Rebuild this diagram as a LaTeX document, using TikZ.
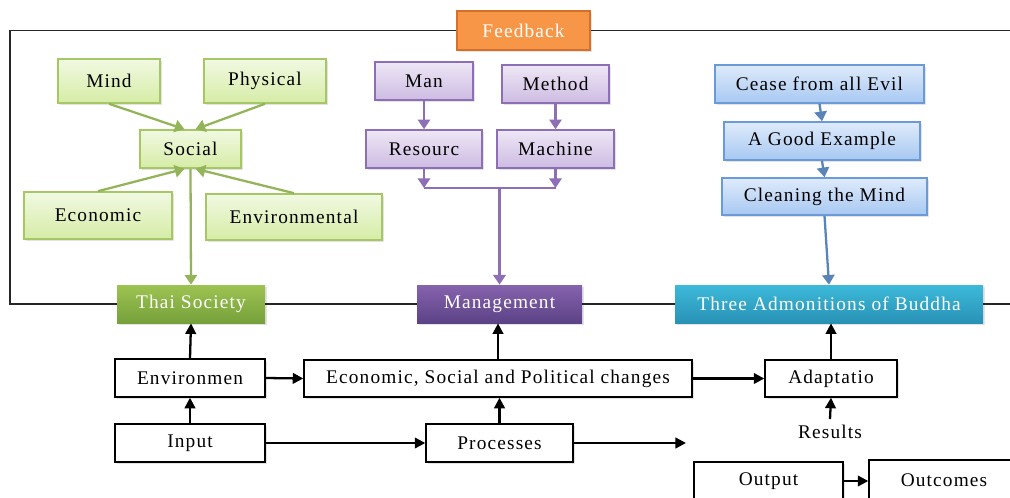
\documentclass[tikz,border=0pt]{standalone}
\usepackage{fontspec}
\setmainfont{Liberation Serif}[LetterSpace=6]
\usetikzlibrary{arrows.meta,shadows}
\newcommand{\pu}{*0.02cm}

\definecolor{gbord}{HTML}{A5C864}
\definecolor{gtop}{HTML}{F1F9E2}
\definecolor{gbot}{HTML}{D6ECA6}
\definecolor{pbord}{HTML}{8C6FB4}
\definecolor{ptop}{HTML}{EEE7F6}
\definecolor{pbot}{HTML}{CDBBE2}
\definecolor{bbord}{HTML}{6A9BD8}
\definecolor{btop}{HTML}{DFEBFB}
\definecolor{bbot}{HTML}{A7C8F2}
\definecolor{thaitop}{HTML}{9DC352}
\definecolor{thaibot}{HTML}{76A03A}
\definecolor{mgtop}{HTML}{8663AD}
\definecolor{mgbot}{HTML}{5C4286}
\definecolor{thrtop}{HTML}{3DB9DA}
\definecolor{thrbot}{HTML}{2892B5}
\definecolor{fbfill}{HTML}{F79646}
\definecolor{fbbord}{HTML}{D5702C}

\tikzset{
  box/.style={inner sep=0pt, align=center, font=\fontsize{11}{13}\selectfont,
    drop shadow={opacity=0.22, shadow xshift=1.2pt, shadow yshift=-1.2pt}},
  greenbox/.style={box, draw=gbord, line width=0.9pt, top color=gtop, bottom color=gbot},
  purplebox/.style={box, draw=pbord, line width=0.9pt, top color=ptop, bottom color=pbot},
  bluebox/.style={box, draw=bbord, line width=0.9pt, top color=btop, bottom color=bbot},
  headbox/.style={box, text=white},
  plainbox/.style={box, draw=black, line width=0.8pt, fill=white},
  loopline/.style={black!85, line width=0.7pt},
  garrow/.style={draw=gbord!90!black, line width=1.3pt, -{Triangle[length=5.5pt,width=7pt]}},
  parrow/.style={draw=pbord, line width=1.3pt, -{Triangle[length=5.5pt,width=7pt]}},
  barrow/.style={draw=bbord!85!black, line width=1.3pt, -{Triangle[length=5.5pt,width=7pt]}},
  karrow/.style={draw=black, line width=1.3pt, -{Triangle[length=6pt,width=6pt]}}
}

\begin{document}
\begin{tikzpicture}[x=0.02cm, y=-0.02cm]
  %%%%% FRAME %%%%%
  \useasboundingbox (0,0) rectangle (1010,497);

  %%%%% TOP ROW %%%%%
  \node[headbox, draw=fbbord, line width=1.5pt, fill=fbfill, minimum width=133\pu, minimum height=39\pu] (feedback) at (523.5,30.5) {Feedback};

  \node[greenbox, minimum width=102\pu, minimum height=44\pu] (mind) at (109,81) {Mind};
  \node[greenbox, minimum width=122\pu, minimum height=44\pu] (physical) at (265,81) {Physical};
  \node[greenbox, minimum width=101\pu, minimum height=38\pu] (social) at (190.5,149) {Social};
  \node[greenbox, minimum width=148\pu, minimum height=47\pu] (economic) at (98,215.5) {Economic};
  \node[greenbox, minimum width=176\pu, minimum height=46\pu] (environmental) at (294,217) {Environmental};

  \node[purplebox, minimum width=98\pu, minimum height=38\pu] (man) at (424,81) {Man};
  \node[purplebox, minimum width=107\pu, minimum height=38\pu] (method) at (555.5,84) {Method};
  \node[purplebox, minimum width=116\pu, minimum height=38\pu] (resourc) at (424,149) {Resourc};
  \node[purplebox, minimum width=117\pu, minimum height=38\pu] (machine) at (555.5,149) {Machine};

  \node[bluebox, minimum width=209\pu, minimum height=38\pu] (cease) at (819.5,84) {Cease from all Evil};
  \node[bluebox, minimum width=196\pu, minimum height=38\pu] (good) at (822,141) {A Good Example};
  \node[bluebox, minimum width=205\pu, minimum height=37\pu] (cleaning) at (824.5,196.5) {Cleaning the Mind};

  %%%%% MIDDLE ROW %%%%%
  \node[headbox, top color=thaitop, bottom color=thaibot, minimum width=148\pu, minimum height=38\pu] (thai) at (191,304) {Thai Society};
  \node[headbox, top color=mgtop, bottom color=mgbot, minimum width=165\pu, minimum height=38\pu] (mgmt) at (499.5,304) {Management};
  \node[headbox, top color=thrtop, bottom color=thrbot, minimum width=308\pu, minimum height=38\pu] (three) at (829,304) {Three Admonitions of Buddha};

  %%%%% BOTTOM ROWS %%%%%
  \node[plainbox, minimum width=150\pu, minimum height=38\pu] (environ) at (190,378) {Environmen};
  \node[plainbox, minimum width=388\pu, minimum height=37\pu] (changes) at (498,378.5) {Economic, Social and Political changes};
  \node[plainbox, minimum width=132\pu, minimum height=37\pu] (adapt) at (831,378.5) {Adaptatio};
  \node[plainbox, minimum width=150\pu, minimum height=38\pu] (input) at (190,443) {Input};
  \node[plainbox, minimum width=147\pu, minimum height=38\pu] (processes) at (499.5,443) {Processes};
  \node[font=\fontsize{11}{13}\selectfont] (results) at (830,432) {Results};
  \node[plainbox, minimum width=149\pu, minimum height=38\pu] (output) at (768.5,481) {Output};
  \node[plainbox, minimum width=150\pu, minimum height=40\pu] (outcomes) at (944,480) {Outcomes};

  %%%%% FEEDBACK LOOP %%%%%
  \coordinate (loopTL) at (10,30.5);
  \coordinate (loopBL) at (10,304);
  \coordinate (loopTR) at (1015,30.5);
  \coordinate (loopBR) at (1015,304);
  \draw[loopline] (feedback.west) -- (loopTL) -- (loopBL) -- (thai.west);
  \draw[loopline] (feedback.east) -- (loopTR);
  \draw[loopline] (thai.east) -- (mgmt.west);
  \draw[loopline] (mgmt.east) -- (three.west);
  \draw[loopline] (three.east) -- (loopBR);

  %%%%% GREEN ARROWS %%%%%
  \draw[garrow] (mind.south) -- ([xshift=-6\pu]social.north);
  \draw[garrow] (physical.south) -- ([xshift=5\pu]social.north);
  \draw[garrow] (economic.north) -- ([xshift=-6\pu]social.south);
  \draw[garrow] (environmental.north) -- ([xshift=5\pu]social.south);
  \draw[garrow] (social.south) -- (thai.north);

  %%%%% PURPLE ARROWS %%%%%
  \coordinate (pbar) at (0,188);
  \draw[parrow] (man.south) -- (resourc.north);
  \draw[parrow] (method.south) -- (machine.north);
  \draw[parrow] (resourc.south) -- (resourc.south |- pbar);
  \draw[parrow] (machine.south) -- (machine.south |- pbar);
  \draw[draw=pbord, line width=1.3pt] (resourc.south |- pbar) -- (machine.south |- pbar);
  \draw[parrow] (mgmt.north |- pbar) -- (mgmt.north);

  %%%%% BLUE ARROWS %%%%%
  \draw[barrow] (cease.south) -- (good.north);
  \draw[barrow] (good.south) -- (cleaning.north);
  \draw[barrow] (cleaning.south) -- (three.north);

  %%%%% BLACK ARROWS %%%%%
  \coordinate (procend) at (686,443);
  \draw[karrow] (environ.north) -- (thai.south);
  \draw[karrow] (input.north) -- (environ.south);
  \draw[karrow] (environ.east) -- (changes.west);
  \draw[karrow] (input.east) -- (processes.west);
  \draw[karrow] (processes.north) -- (processes.north |- changes.south);
  \draw[karrow] (changes.north) -- (changes.north |- mgmt.south);
  \draw[karrow] (changes.east) -- (adapt.west);
  \draw[karrow] (processes.east) -- (procend);
  \draw[karrow] (adapt.north) -- (adapt.north |- three.south);
  \draw[karrow] (results.north) -- (adapt.south);
  \draw[karrow] (output.east) -- (output.east -| outcomes.west);
\end{tikzpicture}
\end{document}
